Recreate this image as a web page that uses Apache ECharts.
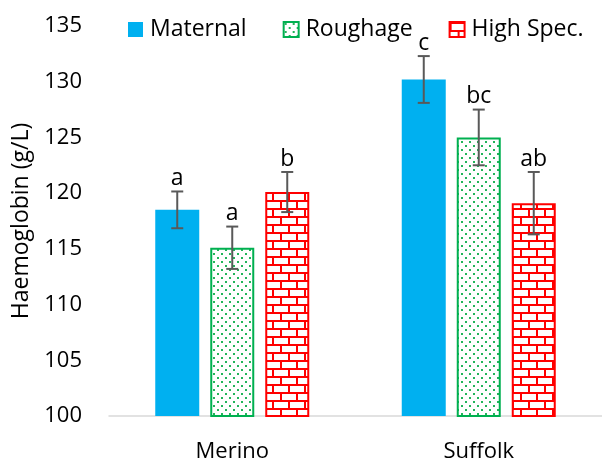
<!DOCTYPE html>
<html>
<head>
<meta charset="utf-8">
<script src="https://cdn.jsdelivr.net/npm/echarts@6/dist/echarts.min.js"></script>
<style>
  html, body { margin: 0; padding: 0; background: #fff; }
  #chart { width: 602px; height: 463px; }
</style>
</head>
<body>
<div id="chart"></div>
<script>
// Haemoglobin by breed and diet group
const categories = ['Merino', 'Suffolk'];
const seriesNames = ['Maternal', 'Roughage', 'High Spec.'];

const maternal = [118.5, 130.2];
const roughage = [115.1, 125.0];
const highSpec = [120.1, 119.1];

const maternalErr = [1.65, 2.1];
const roughageErr = [1.9, 2.5];
const highSpecErr = [1.8, 2.8];

const maternalLetters = ['a', 'c'];
const roughageLetters = ['a', 'bc'];
const highSpecLetters = ['b', 'ab'];

const yMin = 100, yMax = 135, yStep = 5;

// layout constants
const FONT = '"Open Sans", "Noto Sans", sans-serif';
const BAR_WIDTH = 44;
const BAR_GAP = 0.25;
const BAR_STEP = BAR_WIDTH * (1 + BAR_GAP);

// fill patterns
function dotPattern() {
  const c = document.createElement('canvas');
  c.width = 8; c.height = 8;
  const g = c.getContext('2d');
  g.fillStyle = '#ffffff';
  g.fillRect(0, 0, 8, 8);
  g.fillStyle = '#22b45a';
  g.fillRect(1, 1, 2, 2);
  g.fillRect(5, 5, 2, 2);
  return c;
}
function brickPattern() {
  const c = document.createElement('canvas');
  c.width = 16; c.height = 16;
  const g = c.getContext('2d');
  g.fillStyle = '#ffffff';
  g.fillRect(0, 0, 16, 16);
  g.fillStyle = '#ff0000';
  g.fillRect(0, 0, 16, 2);
  g.fillRect(0, 8, 16, 2);
  g.fillRect(0, 0, 2, 8);
  g.fillRect(8, 8, 2, 8);
  return c;
}

const means = [maternal, roughage, highSpec];
const errs = [maternalErr, roughageErr, highSpecErr];
const letters = [maternalLetters, roughageLetters, highSpecLetters];

// flat rows for the error bars: [categoryIndex, seriesIndex, mean, error]
const errRows = [];
const errLetters = [];
for (let k = 0; k < 3; k++) {
  for (let c = 0; c < categories.length; c++) {
    errRows.push([c, k, means[k][c], errs[k][c]]);
    errLetters.push(letters[k][c]);
  }
}

const chart = echarts.init(document.getElementById('chart'), null, { renderer: 'canvas' });

chart.setOption({
  animation: false,
  backgroundColor: '#ffffff',
  textStyle: { fontFamily: FONT },
  legend: {
    data: seriesNames,
    left: 123,
    top: 13,
    itemWidth: 15,
    itemHeight: 15,
    itemGap: 36,
    icon: 'rect',
    textStyle: { fontSize: 23, color: '#000', fontFamily: FONT, padding: [0, 0, 0, 2] }
  },
  grid: { left: 109, width: 500, top: 26, bottom: 46 },
  xAxis: {
    type: 'category',
    data: categories,
    axisTick: { show: false },
    axisLine: { lineStyle: { color: '#d9d9d9', width: 1.5 } },
    axisLabel: { fontSize: 22, color: '#000', fontFamily: FONT, margin: 25 }
  },
  yAxis: {
    type: 'value',
    min: yMin,
    max: yMax,
    interval: yStep,
    name: 'Haemoglobin (g/L)',
    nameLocation: 'middle',
    nameGap: 75,
    nameTextStyle: { fontSize: 23, color: '#000', fontFamily: FONT },
    axisLine: { show: false },
    axisTick: { show: false },
    splitLine: { show: false },
    axisLabel: { fontSize: 22, color: '#000', fontFamily: FONT, margin: 27 }
  },
  series: [
    {
      name: seriesNames[0],
      type: 'bar',
      data: maternal,
      barWidth: BAR_WIDTH,
      barGap: (BAR_GAP * 100) + '%',
      itemStyle: { color: '#00b0f0' }
    },
    {
      name: seriesNames[1],
      type: 'bar',
      data: roughage,
      barWidth: BAR_WIDTH,
      barGap: (BAR_GAP * 100) + '%',
      itemStyle: {
        color: { image: dotPattern(), repeat: 'repeat' },
        borderColor: '#00b050',
        borderWidth: 2
      }
    },
    {
      name: seriesNames[2],
      type: 'bar',
      data: highSpec,
      barWidth: BAR_WIDTH,
      barGap: (BAR_GAP * 100) + '%',
      itemStyle: {
        color: { image: brickPattern(), repeat: 'repeat' },
        borderColor: '#ff0000',
        borderWidth: 2
      }
    },
    {
      name: 'errors',
      type: 'custom',
      data: errRows,
      encode: { x: 0, y: 2 },
      z: 5,
      silent: true,
      renderItem: function (params, api) {
        const cat = api.value(0);
        const k = api.value(1);
        const mean = api.value(2);
        const err = api.value(3);
        const x = api.coord([cat, mean])[0] + (k - 1) * BAR_STEP;
        const top = api.coord([cat, mean + err])[1];
        const bot = api.coord([cat, mean - err])[1];
        const ls = { stroke: '#595959', lineWidth: 2 };
        return {
          type: 'group',
          children: [
            { type: 'line', shape: { x1: x, y1: top, x2: x, y2: bot }, style: ls },
            { type: 'line', shape: { x1: x - 6, y1: top, x2: x + 6, y2: top }, style: ls },
            { type: 'line', shape: { x1: x - 6, y1: bot, x2: x + 6, y2: bot }, style: ls },
            {
              type: 'text',
              style: {
                text: errLetters[params.dataIndex],
                x: x,
                y: top - 13,
                align: 'center',
                verticalAlign: 'middle',
                fontSize: 23,
                fontFamily: FONT,
                fill: '#000'
              }
            }
          ]
        };
      }
    }
  ]
});
</script>
</body>
</html>
